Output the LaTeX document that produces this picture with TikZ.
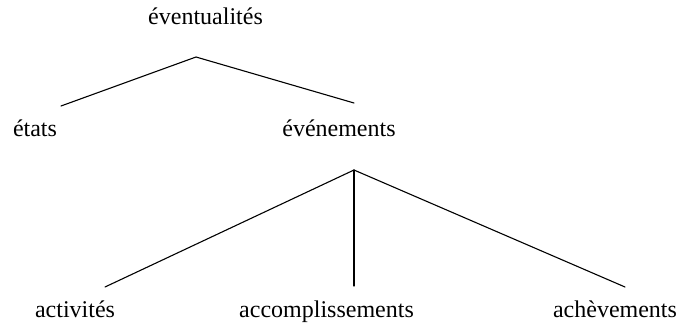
\documentclass[tikz,border=0pt]{standalone}
\usepackage{fontspec}
\setmainfont{Liberation Serif}
\usepackage{tikz}
\usetikzlibrary{positioning}

\begin{document}
\begin{tikzpicture}[x=0.5pt, y=-0.5pt,
    label/.style={inner sep=0pt, anchor=base, font=\fontsize{12}{14}\selectfont},
    branch/.style={line width=0.55pt, line cap=round}
]
\useasboundingbox (0,0) rectangle (681,326);

% Top level
\node[label] (evt) at (205.5, 25) {éventualités};

% Middle level
\node[label] (etats) at (35, 137) {états};
\node[label] (evenements) at (339, 137) {événements};

% Bottom level
\node[label] (activites) at (75, 317) {activités};
\node[label] (accompl) at (326.5, 317) {accomplissements};
\node[label] (achev) at (615, 317) {achèvements};

% Branch points
\coordinate (evtFork) at (196, 57);
\coordinate (etatsTip) at (61, 106);
\coordinate (evenTip) at (354, 103);
\coordinate (evenFork) at (354, 170);
\coordinate (actTip) at (105, 287);
\coordinate (accTip) at (354, 286);
\coordinate (achTip) at (625, 287);

% Branches
\draw[branch] (etatsTip) -- (evtFork) -- (evenTip);
\draw[branch] (actTip) -- (evenFork) -- (achTip);
\draw[branch] (evenFork) -- (accTip);

\end{tikzpicture}
\end{document}
